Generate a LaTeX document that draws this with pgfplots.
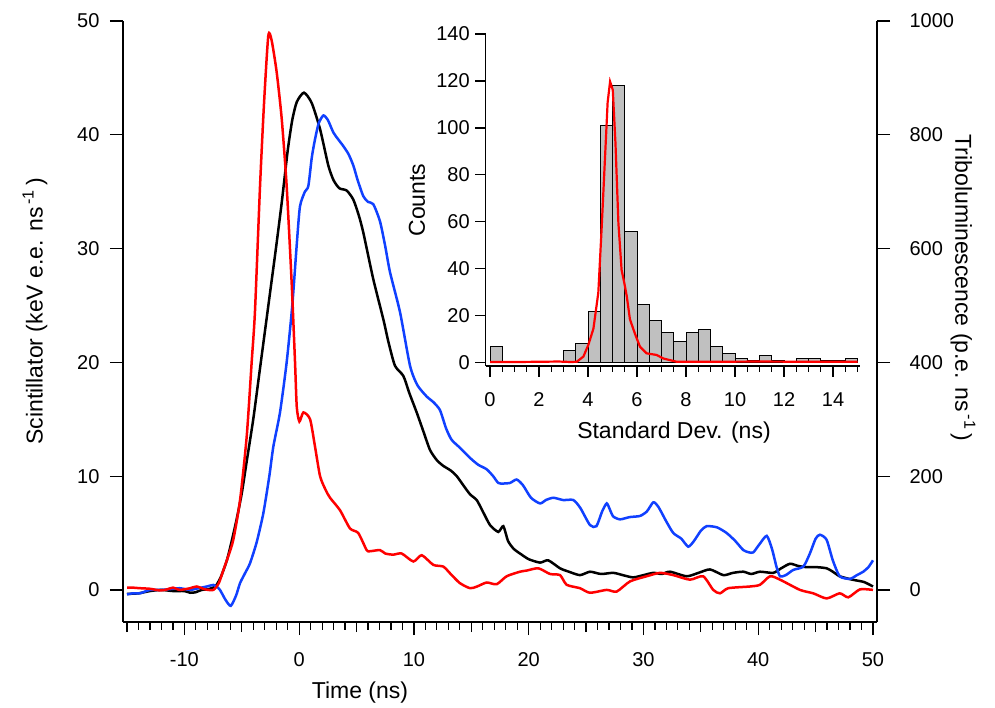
\documentclass[border=0pt]{standalone}
\usepackage{fontspec}
\setmainfont{Liberation Sans}
\usepackage{pgfplots}
\pgfplotsset{compat=1.18}
\definecolor{tblue}{RGB}{16,64,255}
\definecolor{barg}{RGB}{192,192,192}
\newcommand{\lblfont}{\fontsize{23}{27}\selectfont}
\pgfplotsset{igor/.style={scale only axis,
  tick style={black, line width=1.2pt},
  tick label style={font=\fontsize{20}{24}\selectfont},
  label style={font=\lblfont},
  /pgf/number format/assume math mode=true, /pgf/number format/1000 sep={}},
  noarrows/.style={x axis line style={-, line width=1.2pt}, y axis line style={-, line width=1.2pt}}}
\begin{document}
\begin{tikzpicture}
\useasboundingbox (0,0) rectangle (995pt,707pt);
% main axis, left scale
\begin{axis}[igor, at={(123pt,85pt)}, anchor=south west, width=754pt, height=601pt,
  axis x line=bottom, axis y line=left, tick align=outside, noarrows,
  xmin=-15.35, xmax=50.35, ymin=-2.82, ymax=50,
  xtick={-10,0,...,50}, minor xtick={-15,-14,...,50},
  extra x ticks={-15,-5,5,15,25,35,45}, extra x tick labels={},
  extra x tick style={major tick length=10pt, tick align=outside},
  major tick length=13pt, minor tick length=7.5pt,
  ytick={0,10,...,50},
  xticklabel style={yshift=-14pt}, yticklabel style={xshift=-7pt},
  xlabel={Time (ns)}, ylabel={Scintillator (keV e.e. ns\textsuperscript{\,-1}\,)},
  xlabel style={at={(axis description cs:0.3143,-0.118)}, anchor=center, font=\lblfont},
  ylabel style={at={(axis description cs:-0.1167,0.517)}, anchor=center, font=\lblfont}]
\addplot[black, line width=2.5pt, smooth, tension=0.4] coordinates {
(-15,-0.35) (-14,-0.3) (-13,-0.1) (-12,0) (-11,-0.1) (-10,-0.1) (-9.5,-0.25) (-9,-0.2) (-8.5,0) (-8,0.05)
(-7.5,0.2) (-7.2,0.44) (-6.8,1.2) (-6.3,2.6) (-5.9,4.2) (-5.45,6.2) (-5,8.5) (-4.57,11.3) (-4.0,15.0)
(-3.5,18.8) (-3.0,22.6) (-2.5,26.4) (-2.0,30.2) (-1.5,34.2) (-1.0,38.6) (-0.6,41.3) (-0.2,42.9) (0.42,43.7)
(1.09,42.8) (1.82,40.5) (2.54,37.3) (3.0,36.0) (3.5,35.3) (4.14,35.1) (4.72,34.3) (5.2,32.9) (5.59,31.4)
(6.46,27.3) (7.33,23.8) (7.8,21.7) (8.35,19.7) (9.08,18.8) (9.6,17.3) (10.24,15.6) (10.8,14.0) (11.4,12.3)
(12.0,11.4) (12.56,10.9) (13.2,10.5) (13.73,10.0) (14.3,9.2) (14.89,8.4) (15.47,7.9) (16.0,6.9) (16.63,5.7)
(17.35,5.1) (17.79,5.6) (18.2,4.3) (18.7,3.6) (19.24,3.2) (20.0,2.7) (20.99,2.4) (21.7,2.6) (22.73,1.9)
(23.5,1.6) (24.47,1.3) (25.34,1.6) (26.3,1.4) (27.37,1.5) (28.2,1.3) (29.1,1.1) (30.0,1.3) (30.86,1.5)
(31.6,1.4) (32.31,1.6) (33.76,1.2) (34.8,1.5) (35.8,1.8) (36.96,1.3) (37.8,1.5) (38.7,1.6) (39.4,1.4)
(40.15,1.6) (41.31,1.5) (42.0,1.9) (42.77,2.3) (43.5,2.1) (44.22,2.0) (45.1,2.0) (45.96,1.9) (46.5,1.6)
(47.1,1.2) (48.2,0.9) (49.2,0.7) (50,0.3)};
\addplot[tblue, line width=2.5pt, smooth, tension=0.4] coordinates {
(-15,-0.4) (-14.5,-0.3) (-13.87,-0.3) (-13,0) (-12,0) (-11,0.1) (-10.4,0.15) (-9.5,0) (-9,0.1) (-8.05,0.3)
(-7.48,0.44) (-7.2,0.3) (-6.9,0) (-6.4,-0.9) (-5.96,-1.4) (-5.5,-0.5) (-5.15,0.6) (-4.7,1.5) (-4.28,2.35)
(-3.7,4.2) (-3.12,6.75) (-2.6,10.0) (-2.25,12.6) (-1.67,15.6) (-1.09,20.0) (-0.6,25.0) (-0.2,30.5)
(0.07,33.7) (0.5,35.0) (0.80,35.5) (1.1,38.0) (1.38,39.6) (1.7,41.0) (2.11,41.7) (2.5,41.3) (2.98,40.2)
(3.4,39.6) (3.85,39.0) (4.3,38.3) (4.72,37.3) (5.1,36.0) (5.59,34.6) (6.0,34.1) (6.46,33.9) (7.04,32.4)
(7.5,30.2) (7.92,27.9) (8.79,24.4) (9.66,19.7) (10.3,18.0) (11.11,17.0) (11.7,16.5) (12.27,15.8)
(12.8,14.2) (13.28,13.2) (14.0,12.5) (14.89,11.6) (15.6,11.0) (16.34,10.6) (16.9,10.0) (17.35,9.4)
(17.8,9.35) (18.37,9.4) (18.95,9.7) (19.5,9.2) (20.2,8.1) (20.99,7.6) (21.5,7.9) (22.15,8.1) (23.0,7.9)
(23.89,7.9) (24.5,7.2) (25.34,5.7) (25.9,5.6) (26.4,6.9) (26.8,7.6) (27.1,7.0) (27.37,6.45) (27.96,6.2)
(28.8,6.4) (29.7,6.5) (30.3,6.9) (30.86,7.7) (31.3,7.3) (32.0,6.0) (32.6,5.0) (33.3,4.5) (33.9,3.8)
(34.4,4.3) (35.0,5.2) (35.5,5.6) (36.4,5.5) (37.25,5.0) (38.0,4.3) (38.7,3.5) (39.2,3.3) (39.57,3.3)
(40.1,4.0) (40.74,4.75) (41.2,3.6) (41.6,2.0) (41.9,1.2) (42.4,1.3) (43.06,1.76) (43.93,2.05) (44.5,3.2)
(45.0,4.5) (45.38,4.85) (45.96,4.4) (46.5,2.6) (47.1,1.2) (47.99,0.97) (48.6,1.3) (49.15,1.6) (49.6,2.0)
(50,2.6)};
\end{axis}
% right scale, triboluminescence
\begin{axis}[igor, at={(123pt,85pt)}, anchor=south west, width=754pt, height=601pt,
  axis x line=none, axis y line=right, tick align=outside, noarrows,
  xmin=-15.35, xmax=50.35, ymin=-56.4, ymax=1000,
  ytick={0,200,...,1000}, major tick length=13pt,
  yticklabel style={xshift=16pt},
  ylabel={Triboluminescence (p.e. ns\textsuperscript{\,-1}\,)},
  ylabel style={at={(axis description cs:1.114,0.556)}, anchor=center, rotate=180, font=\lblfont}]
\addplot[red, line width=2.5pt, smooth, tension=0.4] coordinates {
(-15,4) (-14.5,4) (-13.87,3) (-13,2) (-12.1,-1) (-11.5,1) (-11,4) (-10.4,0) (-9.5,3) (-8.93,6) (-8.2,1)
(-7.48,0) (-7.0,12) (-6.6,35) (-6.2,58) (-5.74,88) (-5.15,158) (-4.57,270) (-4.14,400) (-3.85,490)
(-3.41,710) (-3.06,856) (-2.69,974) (-2.4,966) (-1.96,910) (-1.52,828) (-1.09,710) (-0.65,538) (-0.36,400)
(-0.21,322) (0.02,296) (0.37,312) (0.95,300) (1.38,252) (1.82,200) (2.3,176) (2.69,162) (3.56,140)
(4.43,108) (5.15,100) (5.88,70) (6.17,68) (7.04,70) (7.5,64) (8.2,62) (8.93,64) (9.95,50) (10.68,61)
(11.69,44) (12.56,41) (13.2,28) (14.0,12) (14.89,3) (15.5,6) (16.34,13) (17.21,10) (18.08,24) (19.24,32)
(19.82,34) (20.84,38) (21.86,28) (22.73,26) (23.31,9) (24.47,3) (25.34,-5) (26.8,0) (27.66,-3) (28.83,15)
(30.28,24) (31.44,30) (32.6,26) (34.05,18) (35.2,24) (36.08,0) (36.67,-6) (37.39,3) (39.28,6) (40.15,9)
(41.03,24) (41.9,18) (43.64,0) (44.8,-6) (45.96,-15) (47.1,-6) (47.85,-13) (48.87,1) (50,0)};
\end{axis}
% inset histogram
\begin{axis}[igor, at={(485.7pt,341pt)}, anchor=south west, width=374.3pt, height=332pt,
  axis x line=bottom, axis y line=left, tick align=outside, noarrows,
  xmin=-0.176, xmax=15.1, ymin=-1.4, ymax=140,
  xtick={0,2,...,14}, minor xtick={0,0.5,...,15}, ytick={0,20,...,140},
  major tick length=10.5pt, minor tick length=5.5pt,
  xticklabel style={yshift=-13pt}, yticklabel style={xshift=-2pt},
  xlabel={Standard Dev. (ns)}, ylabel={Counts},
  xlabel style={at={(axis description cs:0.503,-0.199)}, anchor=center, font=\lblfont},
  ylabel style={at={(axis description cs:-0.1835,0.5)}, anchor=center, font=\lblfont}]
\addplot[ybar interval, fill=barg, draw=black, line width=1pt] coordinates {(0,7) (0.5,7)};
\addplot[ybar interval, fill=barg, draw=black, line width=1pt] coordinates {
(3.0,5) (3.5,8) (4.0,22) (4.5,101) (5.0,118) (5.5,56) (6.0,25) (6.5,18) (7.0,13) (7.5,9) (8.0,13)
(8.5,14) (9.0,7) (9.5,4) (10.0,2) (10.5,1) (11.0,3) (11.5,1) (12.0,1)};
\addplot[ybar interval, fill=barg, draw=black, line width=1pt] coordinates {
(12.5,2) (13.0,2) (13.5,1) (14.0,1) (14.5,2) (15.0,2)};
\addplot[red, line width=2.2pt] coordinates {
(0,0.3) (1,0.3) (2,0.4) (2.8,0.5) (3.3,0.3) (3.54,0.4) (3.81,2.6) (4.01,7.5) (4.22,14.5) (4.42,29.8)
(4.56,58.2) (4.69,86.6) (4.80,110.8) (4.90,119.7) (5.01,116.2) (5.12,93.5) (5.24,59.4) (5.37,39.5)
(5.48,34) (5.58,28.4) (5.71,18.5) (5.92,12.2) (6.12,6.8) (6.39,4) (6.8,3.3) (7.07,1.8) (7.62,0.4)
(9,0.4) (11,0.5) (13,0.4) (15,0.4)};
\end{axis}
\end{tikzpicture}
\end{document}
